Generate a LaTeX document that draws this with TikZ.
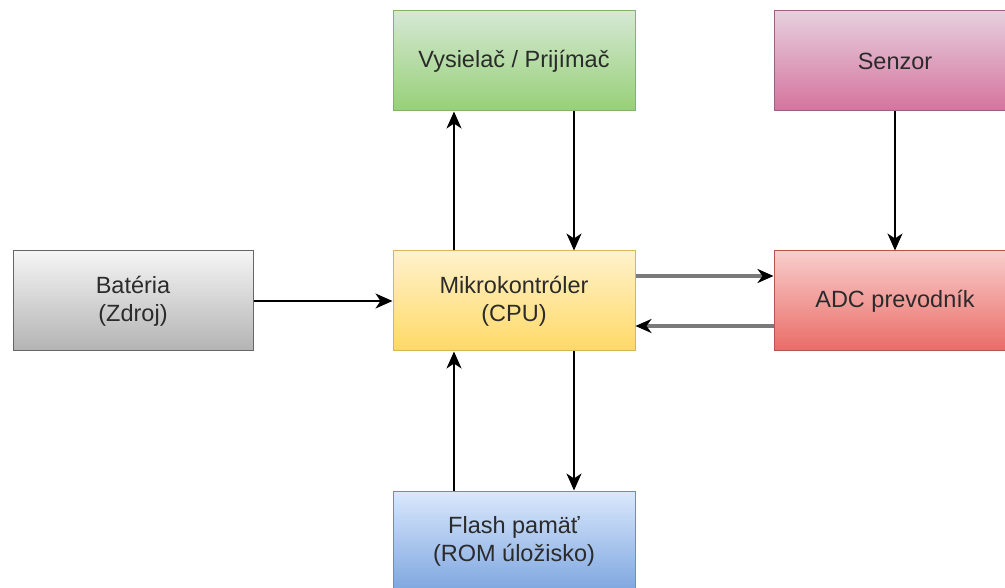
\documentclass[tikz,border=0pt]{standalone}
\usepackage{fontspec}
\setmainfont{Liberation Sans}
\usetikzlibrary{arrows.meta}

\definecolor{txt}{HTML}{2B2B2B}
\definecolor{link}{HTML}{7A7A7A}

\tikzset{
  block/.style={draw, line width=1pt, minimum width=242pt, minimum height=100pt,
    inner sep=0pt, align=center, text=txt,
    font=\fontsize{23.5}{28}\selectfont},
  greenbox/.style={block, top color={rgb,255:red,213;green,232;blue,212}, bottom color={rgb,255:red,151;green,208;blue,119}, draw={rgb,255:red,130;green,179;blue,102}},
  pinkbox/.style={block, top color={rgb,255:red,230;green,208;blue,222}, bottom color={rgb,255:red,213;green,115;blue,157}, draw={rgb,255:red,153;green,97;blue,133}},
  graybox/.style={block, top color={rgb,255:red,245;green,245;blue,245}, bottom color={rgb,255:red,179;green,179;blue,179}, draw={rgb,255:red,102;green,102;blue,102}},
  yellowbox/.style={block, top color={rgb,255:red,255;green,242;blue,204}, bottom color={rgb,255:red,255;green,217;blue,102}, draw={rgb,255:red,214;green,182;blue,86}},
  redbox/.style={block, top color={rgb,255:red,248;green,206;blue,204}, bottom color={rgb,255:red,234;green,107;blue,102}, draw={rgb,255:red,184;green,84;blue,80}},
  bluebox/.style={block, top color={rgb,255:red,218;green,232;blue,252}, bottom color={rgb,255:red,126;green,166;blue,224}, draw={rgb,255:red,108;green,142;blue,191}},
  wire/.style={line width=1.6pt, black, -{Stealth[length=17pt, width=15pt, inset=5pt]}},
  greywire/.style={line width=3.2pt, link, -{Stealth[black, length=16pt, width=14pt, inset=5pt]}}
}

\begin{document}
\begin{tikzpicture}[x=1pt, y=-1pt]
  \useasboundingbox (0,0) rectangle (1005,588);
  \clip (0,0) rectangle (1005,588);

  \node[greenbox]  (tx)    at (514,61)  {Vysielač / Prijímač};
  \node[pinkbox]   (sens)  at (895,61)  {Senzor};
  \node[graybox, minimum width=240pt] (bat) at (133,301) {Batéria\\(Zdroj)};
  \node[yellowbox] (cpu)   at (514,301) {Mikrokontróler\\(CPU)};
  \node[redbox]    (adc)   at (895,301) {ADC prevodník};
  \node[bluebox]   (flash) at (514,541) {Flash pamäť\\(ROM úložisko)};

  % power in
  \draw[wire] (bat.east) -- (cpu.west);
  % radio link
  \draw[wire] ([xshift=-60pt]cpu.north) -- ([xshift=-60pt]tx.south);
  \draw[wire] ([xshift=60pt]tx.south) -- ([xshift=60pt]cpu.north);
  % sensor chain
  \draw[wire] (sens.south) -- (adc.north);
  \draw[greywire] ([yshift=25pt]cpu.east) -- ([yshift=25pt]adc.west);
  \draw[greywire] ([yshift=-25pt]adc.west) -- ([yshift=-25pt]cpu.east);
  % memory
  \draw[wire] ([xshift=-60pt]flash.north) -- ([xshift=-60pt]cpu.south);
  \draw[wire] ([xshift=60pt]cpu.south) -- ([xshift=60pt]flash.north);
\end{tikzpicture}
\end{document}
